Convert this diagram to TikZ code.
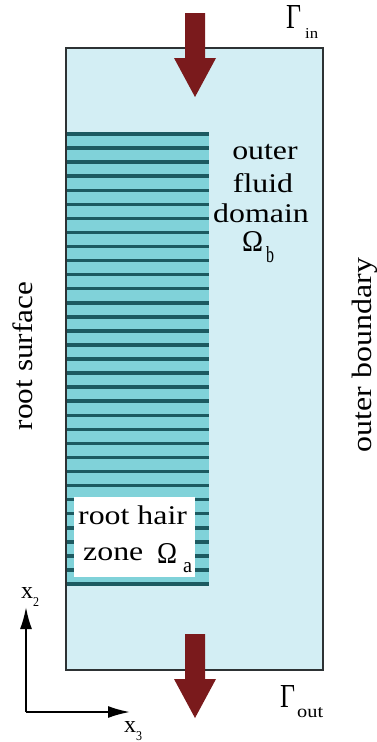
\documentclass[tikz,border=0pt]{standalone}
\usepackage{fontspec}
\setmainfont{Liberation Serif}
\usetikzlibrary{arrows.meta}
\definecolor{bgblue}{RGB}{211,238,244}
\definecolor{bandcol}{RGB}{128,210,217}
\definecolor{stripecol}{RGB}{28,90,97}
\definecolor{arrowred}{RGB}{122,26,28}
\definecolor{framecol}{RGB}{45,50,52}
\newcommand{\hx}[1]{\scalebox{1.18}[1]{#1}}
\begin{document}
\begin{tikzpicture}[x=1pt,y=-1pt,
  txt/.style={inner sep=0pt, font=\fontsize{27}{27}\selectfont, anchor=base},
  txtw/.style={inner sep=0pt, anchor=base west},
  rtxt/.style={inner sep=0pt, rotate=90, anchor=base, font=\fontsize{28}{28}\selectfont},
  flow/.style={fill=arrowred, draw=none},
  axis/.style={line width=2pt, -{Latex[length=22pt,width=12pt]}},
  stripe/.style={stripecol, line width=3.5pt}]
\useasboundingbox (0,0) rectangle (376,742);
% domain
\fill[bgblue] (66,48) rectangle (323,670);
\fill[bandcol] (66,132) rectangle (209,586);
\foreach \i in {0,...,32} {
  \draw[stripe] (66,{134+\i*450/32}) -- (209,{134+\i*450/32});
}
\fill[white] (74,497) rectangle (195,577);
\draw[framecol, line width=1.5pt] (66,48) rectangle (323,670);
% flow arrows
\fill[flow] (185,13) -- (205,13) -- (205,58) -- (216,58) -- (195,97) -- (174,58) -- (185,58) -- cycle;
\fill[flow] (185,634) -- (205,634) -- (205,679) -- (216,679) -- (195,718) -- (174,679) -- (185,679) -- cycle;
% axes
\coordinate (origin) at (26,712);
\coordinate (x2tip) at (26,607);
\coordinate (x3tip) at (130,712);
\draw[axis] (origin) -- (x2tip);
\draw[axis] (origin) -- (x3tip);
\node[txtw] (x2) at (21,598) {\resizebox{12pt}{11pt}{x}};
\node[txtw] (x2s) at (33,606) {\resizebox{6pt}{9pt}{2}};
\node[txtw] (x3) at (124,732) {\resizebox{12pt}{11pt}{x}};
\node[txtw] (x3s) at (136,740) {\resizebox{6pt}{9pt}{3}};
% boundary labels
\node[txtw] (gin) at (286,28) {\resizebox{15pt}{23pt}{Γ}};
\node[txtw] (ginsub) at (305,38) {\resizebox{13pt}{10pt}{in}};
\node[txtw] (gout) at (280,707) {\resizebox{15pt}{22pt}{Γ}};
\node[txtw] (goutsub) at (297,717) {\resizebox{26pt}{10pt}{out}};
% domain labels
\node[txt] (outer) at (265,159) {\hx{outer}};
\node[txt] (fluid) at (263,192) {\hx{fluid}};
\node[txt] (domain) at (261,222) {\hx{domain}};
\node[txtw] (omb) at (242,251) {\resizebox{21pt}{20pt}{Ω}};
\node[txtw] (omsub) at (266,262) {\resizebox{8pt}{16pt}{b}};
\node[txt, anchor=base west] (rh) at (78,524) {\hx{root hair}};
\node[txt, anchor=base west] (zone) at (83,560) {\hx{zone}};
\node[txtw] (oma) at (157,563) {\resizebox{20pt}{20pt}{Ω}};
\node[txtw] (omasub) at (183,572) {\resizebox{9pt}{10pt}{a}};
% side labels
\node[rtxt] (rs) at (32,356) {\resizebox{148pt}{\height}{root surface}};
\node[rtxt] (ob) at (371,355) {\resizebox{194pt}{\height}{outer boundary}};
\end{tikzpicture}
\end{document}
